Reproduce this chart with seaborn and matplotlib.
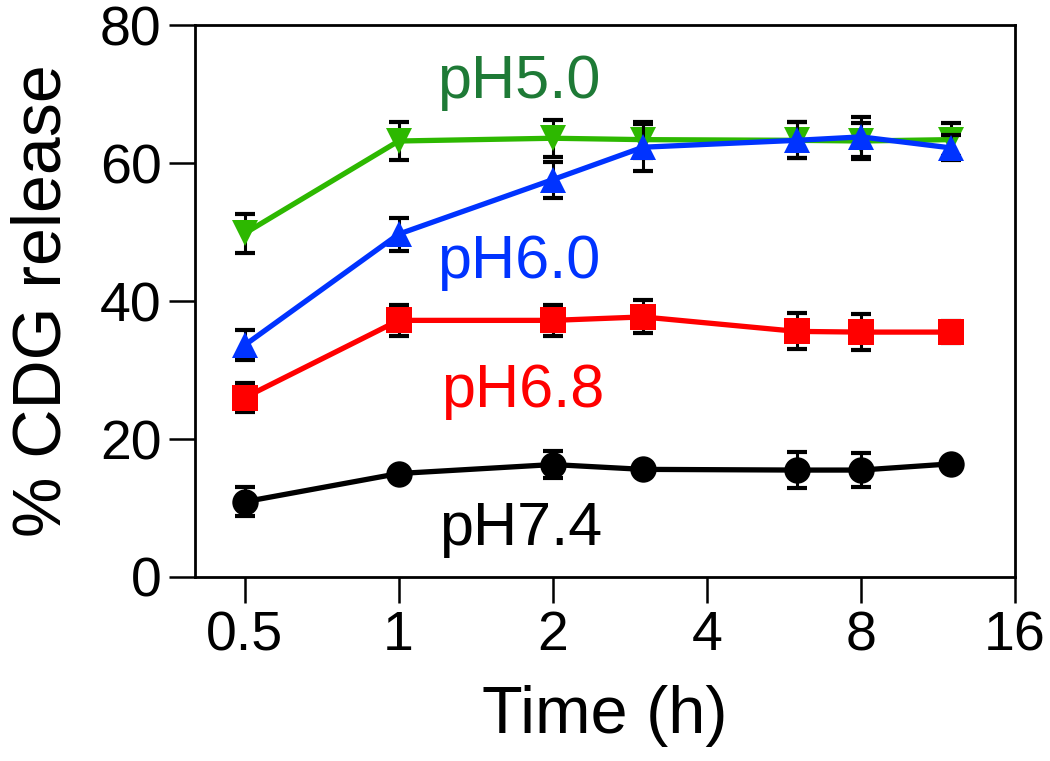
import numpy as np
import pandas as pd
import matplotlib
matplotlib.use("Agg")
import matplotlib.pyplot as plt
import seaborn as sns

# ---- data ----
time_h = [0.5, 1, 2, 3, 6, 8, 12]
ph50 = [49.8, 63.2, 63.6, 63.4, 63.3, 63.2, 63.4]
ph50_err = [2.8, 2.7, 2.7, 2.6, 2.6, 2.6, 2.4]
ph60 = [33.6, 49.7, 57.6, 62.3, 63.3, 63.8, 62.2]
ph60_err = [2.2, 2.4, 2.6, 3.4, 2.6, 2.9, 1.8]
ph68 = [26.0, 37.2, 37.2, 37.7, 35.6, 35.5, 35.5]
ph68_err = [2.1, 2.2, 2.2, 2.4, 2.6, 2.6, 1.6]
ph74 = [10.9, 15.0, 16.3, 15.6, 15.5, 15.5, 16.4]
ph74_err = [2.1, 0.6, 2.0, 0.6, 2.6, 2.5, 0.6]

series_names = ["pH5.0", "pH6.0", "pH6.8", "pH7.4"]
xticks = [0.5, 1, 2, 4, 8, 16]
xtick_labels = ["0.5", "1", "2", "4", "8", "16"]
yticks = [0, 20, 40, 60, 80]

line_colors = {"pH5.0": "#2DB800", "pH6.0": "#0033FF", "pH6.8": "#FF0000", "pH7.4": "#000000"}
text_colors = {"pH5.0": "#1E7A36", "pH6.0": "#0033FF", "pH6.8": "#FF0000", "pH7.4": "#000000"}
markers = {"pH5.0": "v", "pH6.0": "^", "pH6.8": "s", "pH7.4": "o"}

vals = {"pH5.0": (ph50, ph50_err), "pH6.0": (ph60, ph60_err),
        "pH6.8": (ph68, ph68_err), "pH7.4": (ph74, ph74_err)}

rows = []
for name in series_names:
    y, e = vals[name]
    for t, v, ee in zip(time_h, y, e):
        rows.append({"Time": t, "Release": v, "Err": ee, "Series": name})
df = pd.DataFrame(rows)

sns.set_theme(style="ticks")
plt.rcParams['font.family'] = ['Liberation Sans', 'DejaVu Sans']
plt.rcParams['text.color'] = 'black'
plt.rcParams['axes.labelcolor'] = 'black'

fig = plt.figure(figsize=(10.5, 7.61), dpi=100)
ax = fig.add_axes([0.1857, 0.2418, 0.7810, 0.7252])

order_draw = ["pH7.4", "pH6.8", "pH5.0", "pH6.0"]
for i, name in enumerate(order_draw):
    sub = df[df["Series"] == name]
    ax.errorbar(sub["Time"], sub["Release"], yerr=sub["Err"], fmt="none",
                ecolor="black", elinewidth=2.2, capsize=7.5, capthick=3.0,
                zorder=2 + i * 2)
    sns.lineplot(data=sub, x="Time", y="Release", ax=ax, color=line_colors[name],
                 marker=markers[name], markersize=19, markeredgewidth=0,
                 linewidth=3.8, estimator=None, errorbar=None, sort=False,
                 zorder=3 + i * 2, legend=False)

ax.set_xscale("log", base=2)
ax.set_xlim(0.4, 16)
ax.set_ylim(0, 80)
ax.set_xticks(xticks)
ax.set_xticklabels(xtick_labels)
ax.minorticks_off()
ax.set_yticks(yticks)

for sp in ax.spines.values():
    sp.set_linewidth(2.0)
    sp.set_color("black")
    sp.set_visible(True)
ax.tick_params(axis="both", which="major", length=19, width=1.8, colors="black",
               labelsize=40, pad=5)

ax.set_xlabel("Time (h)", fontsize=48, labelpad=16, color="black")
ax.set_ylabel("% CDG release", fontsize=49, labelpad=18, color="black")

label_pos = {"pH5.0": (1.19, 69.4), "pH6.0": (1.19, 43.3),
             "pH6.8": (1.21, 24.6), "pH7.4": (1.20, 4.6)}
for name in series_names:
    x, y = label_pos[name]
    ax.text(x, y, name, color=text_colors[name], fontsize=44,
            ha="left", va="baseline")

fig.savefig("out.png", dpi=100)
